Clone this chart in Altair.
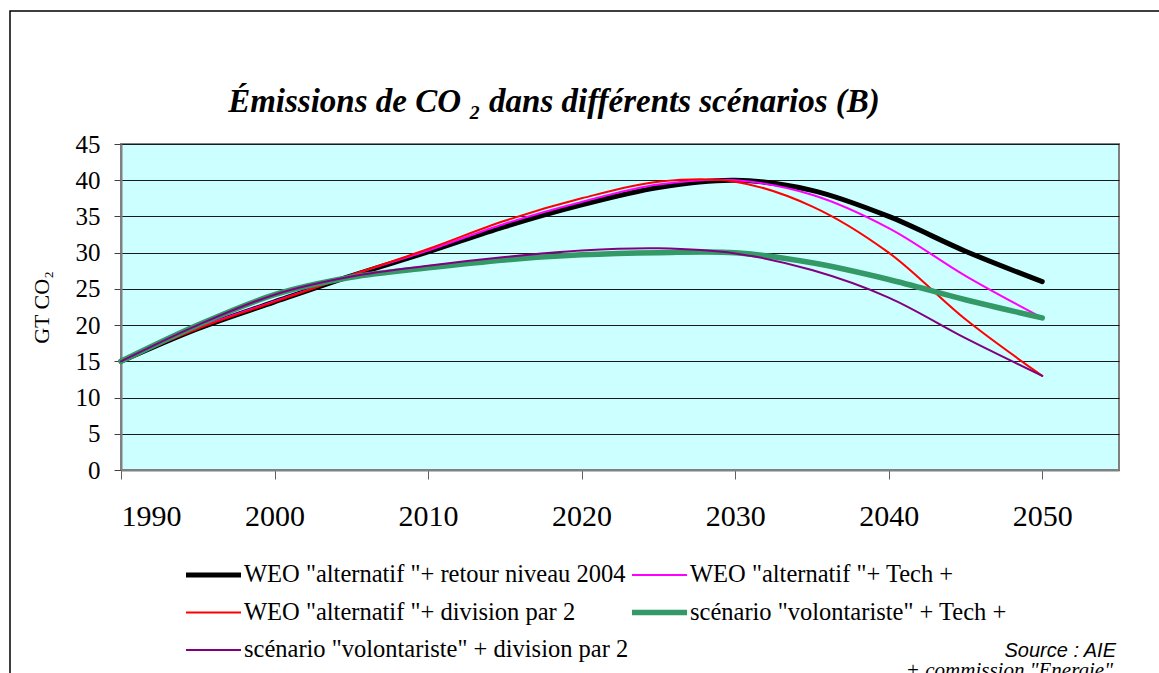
import altair as alt
import pandas as pd

# ---- data ----
years = [1990, 1995, 2000, 2005, 2010, 2015, 2020, 2025, 2030, 2035, 2040, 2045, 2050]
series_names = [
    'WEO "alternatif "+ retour niveau 2004',
    'WEO "alternatif "+ Tech +',
    'WEO "alternatif "+ division par 2',
    'scénario "volontariste" + Tech +',
    'scénario "volontariste" + division par 2',
]
weo_retour = [15, 19.5, 23.2, 26.8, 30.1, 33.6, 36.6, 39.0, 40.0, 38.6, 35.0, 30.2, 26.0]
weo_tech = [15, 19.6, 23.3, 26.9, 30.3, 34.0, 37.0, 39.4, 40.0, 38.0, 33.4, 26.8, 21.0]
weo_div2 = [15, 19.5, 23.2, 26.9, 30.5, 34.4, 37.5, 39.8, 39.8, 36.4, 30.0, 20.8, 13.0]
vol_tech = [15, 20.0, 24.2, 26.6, 27.9, 29.0, 29.7, 30.0, 30.0, 28.6, 26.3, 23.5, 21.0]
vol_div2 = [15, 20.0, 24.2, 26.7, 28.2, 29.4, 30.3, 30.6, 29.9, 27.6, 23.8, 18.2, 13.0]
all_series = [weo_retour, weo_tech, weo_div2, vol_tech, vol_div2]

colors = ["#000000", "#FF00FF", "#FF0000", "#339966", "#800080"]
widths = [5, 2, 2, 5.5, 2]

x_ticks = [1990, 2000, 2010, 2020, 2030, 2040, 2050]
y_ticks = [0, 5, 10, 15, 20, 25, 30, 35, 40, 45]

title_text = "Émissions de CO ₂  dans différents scénarios (B)"
source_1 = "Source : AIE"
source_2 = '+ commission "Energie"'

SERIF = "Liberation Serif"

rows = []
for name, vals in zip(series_names, all_series):
    for yr, v in zip(years, vals):
        rows.append({"year": yr, "value": v, "series": name})
df = pd.DataFrame(rows)

legend_kw = dict(
    title=None,
    orient="none",
    legendX=62,
    legendY=415,
    columns=2,
    direction="horizontal",
    symbolType="stroke",
    symbolSize=3025,
    clipHeight=32,
    labelFont=SERIF,
    labelFontSize=24.5,
    labelColor="black",
    labelLimit=800,
    labelOffset=0,
    columnPadding=-4,
    rowPadding=5.5,
    padding=0,
)

lines = alt.Chart(df).mark_line(
    interpolate="catmull-rom", strokeCap="round", strokeJoin="round"
).encode(
    x=alt.X(
        "year:Q",
        scale=alt.Scale(domain=[1990, 2055], nice=False, zero=False),
        axis=alt.Axis(
            values=x_ticks, format="d", title=None, grid=False,
            labelFont=SERIF, labelFontSize=30, labelColor="black",
            tickSize=9, labelPadding=22, tickColor="#606060",
            domainColor="#808080", domainWidth=2,
        ),
    ),
    y=alt.Y(
        "value:Q",
        scale=alt.Scale(domain=[0, 45], nice=False),
        axis=alt.Axis(
            values=y_ticks, title="GT CO₂", grid=True, gridColor="#1a1a1a", gridWidth=1,
            labelFont=SERIF, labelFontSize=25, labelColor="black",
            tickSize=7, labelPadding=14, tickColor="#404040",
            domainColor="#808080", domainWidth=2,
            titleFont=SERIF, titleFontSize=22, titleFontWeight="normal",
            titleColor="black", titleX=-73, titleY=163, titleBaseline="alphabetic",
            titleAngle=270,
        ),
    ),
    color=alt.Color(
        "series:N",
        scale=alt.Scale(domain=series_names, range=colors),
        legend=alt.Legend(**legend_kw),
    ),
    strokeWidth=alt.StrokeWidth(
        "series:N",
        scale=alt.Scale(type="ordinal", domain=series_names, range=widths),
        legend=alt.Legend(**legend_kw),
    ),
)

border = alt.Chart(pd.DataFrame({"a": [0]})).mark_rect(
    fill=None, stroke="black", strokeWidth=1.5
).encode(
    x=alt.value(-111), y=alt.value(-133), x2=alt.value(1150), y2=alt.value(700)
)

title = alt.Chart(pd.DataFrame({"t": [title_text]})).mark_text(
    font=SERIF, fontSize=33, fontStyle="italic", fontWeight="bold",
    align="center", baseline="alphabetic", color="black",
).encode(x=alt.value(433), y=alt.value(-32), text="t:N")

src1 = alt.Chart(pd.DataFrame({"t": [source_1]})).mark_text(
    font="Liberation Sans", fontSize=20, fontStyle="italic",
    align="right", baseline="alphabetic", color="black",
).encode(x=alt.value(995), y=alt.value(513), text="t:N")

src2 = alt.Chart(pd.DataFrame({"t": [source_2]})).mark_text(
    font=SERIF, fontSize=21, fontStyle="italic",
    align="right", baseline="alphabetic", color="black",
).encode(x=alt.value(992), y=alt.value(533), text="t:N")

chart = alt.layer(border, lines, title, src1, src2).properties(
    width=998,
    height=326,
    autosize=alt.AutoSizeParams(type="none"),
    padding={"left": 121, "top": 144, "right": 40, "bottom": 203},
    background="white",
).configure_view(
    fill="#CCFFFF", stroke="#808080", strokeWidth=2
)

chart.save("out.html", embed_options={"renderer": "svg", "actions": False})
